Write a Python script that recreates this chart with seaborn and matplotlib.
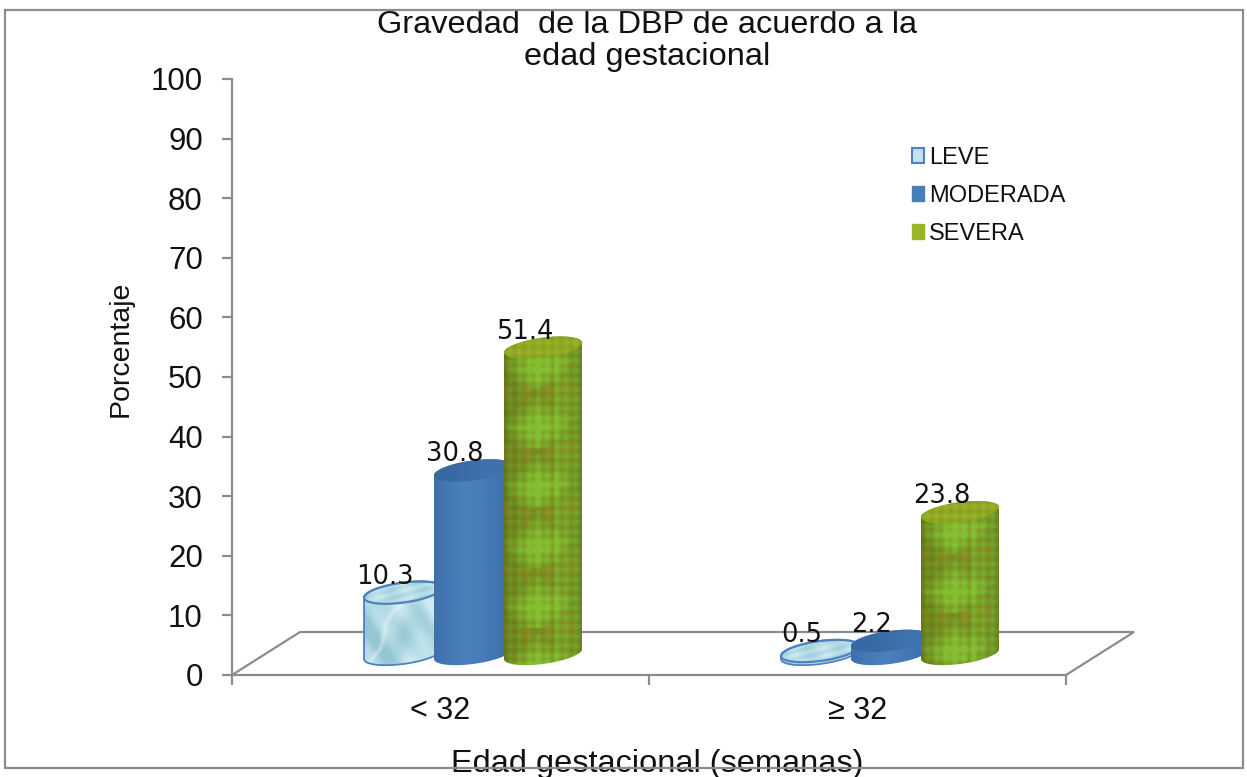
import numpy as np
import pandas as pd
import seaborn as sns
import matplotlib
matplotlib.use("Agg")
import matplotlib.pyplot as plt
from matplotlib.patches import Polygon, Patch, Rectangle

# Severity of bronchopulmonary dysplasia by gestational age (percent)
categories = ["< 32", "≥ 32"]
severities = ["LEVE", "MODERADA", "SEVERA"]
leve = [10.3, 0.5]
moderada = [30.8, 2.2]
severa = [51.4, 23.8]
tick_values = list(range(0, 101, 10))
title_text = "Gravedad  de la DBP de acuerdo a la\nedad gestacional"
x_title = "Edad gestacional (semanas)"
y_title = "Porcentaje"

W, H = 1247, 777
AX_L, AX_R, AX_T, AX_B = 232, 1066, 79, 675
PX_X = (AX_R - AX_L) / 2.0      # pixels per category unit
PX_Y = (AX_B - AX_T) / 100.0    # pixels per percent
GRAY = "#8c8c8c"
FLOOR_DX = 68 / PX_X            # depth of the floor
FLOOR_DY = 43 / PX_Y
FLOOR = 21 / PX_Y               # column base above the front floor edge
SHIFT = 32.5 / PX_X             # columns stand in the middle of the floor depth
BAR_W = 78 / PX_X
B_PX, K_PX = 10.0, 5.0          # ellipse half-height and tilt

sns.set_theme(style="white")
plt.rcParams["font.family"] = ["Liberation Sans", "DejaVu Sans"]

df = pd.DataFrame({
    "edad": categories * 3,
    "gravedad": np.repeat(severities, 2),
    "pct": leve + moderada + severa,
})

fig = plt.figure(figsize=(W / 100, H / 100), dpi=100, facecolor="white")
ax = fig.add_axes([AX_L / W, 1 - AX_B / H, (AX_R - AX_L) / W, (AX_B - AX_T) / H])

sns.barplot(data=df, x="edad", y="pct", hue="gravedad", order=categories,
            hue_order=severities, palette=["#a9d8e8", "#4a7ebb", "#8fa51f"],
            width=210 / PX_X, dodge=True, legend=False, errorbar=None, ax=ax)
ax.set_xlim(-0.5, 1.5)
ax.set_ylim(0, 100)


def lerp(c0, c1, t):
    t = np.clip(t, 0, 1)[..., None]
    return np.array(matplotlib.colors.to_rgb(c0)) * (1 - t) + np.array(matplotlib.colors.to_rgb(c1)) * t


def leve_side(n, xp, yp, v):
    warp = np.sin(yp / 13.0 + 1.3 * np.sin(xp / 9.0)) + 0.6 * np.sin(xp / 5.3 - yp / 7.1)
    streak = np.exp(-((xp + 0.55 * yp - 12 - 4 * np.sin(yp / 9.0)) / 2.5) ** 2)
    img = lerp("#94c6d4", "#cdeaf2", 0.55 + 0.3 * warp + 0.25 * n)
    img = img * (1 - 0.35 * streak[..., None]) + 0.35 * streak[..., None]
    return img


def moderada_side(n, xp, yp, v):
    return lerp("#3a6ba6", "#4b80bd", 1.1 - 0.9 * np.abs(n + 0.1))


def severa_side(n, xp, yp, v):
    p = np.mod(v, 60.0) / 60.0
    weave = np.sin(2 * np.pi * (xp + yp) / 19.0) * np.sin(2 * np.pi * (xp - yp) / 19.0)
    diamond = 1 - (np.abs(n + 0.15) / 1.05 + np.abs(p - 0.66) / 0.6)
    g = 0.2 + 1.05 * np.clip(diamond, 0, 1) + 0.28 * weave
    g = np.where(n > 0.28, g + 0.32, g)
    img = lerp("#6f851c", "#84c032", g)
    ochre = np.clip(0.6 - 1.7 * p, 0, 1) * (0.45 + 0.55 * np.sin(2 * np.pi * xp / 22.0))
    ochre = np.clip(ochre + 0.3 * np.clip(-weave, 0, 1), 0, 1)[..., None]
    img = img * (1 - ochre * 0.7) + np.array([0.66, 0.53, 0.16]) * ochre * 0.7
    return img * (0.84 + 0.16 * np.sqrt(np.clip(1 - n ** 2, 0, 1)))[..., None]


def leve_top(n, xp, yp, v):
    return lerp("#9fcfdd", "#cde9f1", 0.5 + 0.5 * np.sin(xp / 5.0 + yp / 3.0) * np.sin(yp / 2.5))


def moderada_top(n, xp, yp, v):
    return lerp("#396aa5", "#3f72ae", n + 0.5)


def severa_top(n, xp, yp, v):
    mesh = np.sin(2 * np.pi * (xp + yp) / 19.0) * np.sin(2 * np.pi * (xp - yp) / 19.0)
    return lerp("#8a9e1e", "#97b42c", 0.5 + 0.5 * mesh)


SIDES = [leve_side, moderada_side, severa_side]
TOPS = [leve_top, moderada_top, severa_top]
EDGES = ["#4f81bd", None, None]


def textured(cx, half, y_lo, y_hi, shader, y_ref, clip, z):
    # y_lo / y_hi are percent values; the shader works in pixel units
    nx = max(int(2 * half * PX_X), 2)
    ny = max(int((y_hi - y_lo) * PX_Y), 2)
    xs = np.linspace(-1, 1, nx)
    ys = np.linspace(0, (y_hi - y_lo) * PX_Y, ny)
    n, yp = np.meshgrid(xs, ys)
    xp = n * half * PX_X
    arc = B_PX * np.sqrt(np.clip(1 - n ** 2, 0, 1)) - K_PX * n
    v = yp + (y_hi - y_ref) * PX_Y - arc
    img = np.clip(shader(n, xp, yp, v), 0, 1)
    im = ax.imshow(img, extent=(cx - half, cx + half, y_lo, y_hi), origin="upper",
                   aspect="auto", interpolation="bilinear", zorder=z)
    im.set_clip_path(clip)


def ellipse_arc(cx, half, y0, t):
    return np.column_stack([cx + half * np.cos(t), y0 + (K_PX * np.cos(t) + B_PX * np.sin(t)) / PX_Y])


# Each flat bar becomes a tilted cylinder standing on the floor
for s, container in enumerate(ax.containers):
    for c, bar in enumerate(container):
        bar.set_width(BAR_W)
        bar.set_x(bar.get_x() + SHIFT + (210 / 3 / PX_X - BAR_W) / 2)
        bar.set_y(FLOOR)
        value = bar.get_height()
        cx = bar.get_x() + BAR_W / 2
        half = BAR_W / 2
        top = FLOOR + value
        z = 3 + s
        bar.set_zorder(z)
        outline = np.vstack([ellipse_arc(cx, half, top, np.linspace(np.pi, 0, 60)),
                             ellipse_arc(cx, half, FLOOR, np.linspace(0, -np.pi, 60))])
        body = Polygon(outline, closed=True, fc="none", ec="none", transform=ax.transData)
        ax.add_patch(body)
        bar.set_clip_path(body)
        pad = (B_PX + K_PX) / PX_Y
        textured(cx, half, FLOOR - pad, top + pad, SIDES[s], top, body, z + 0.1)
        lid_xy = ellipse_arc(cx, half, top, np.linspace(0, 2 * np.pi, 120))
        lid = Polygon(lid_xy, closed=True, fc="none", ec="none", transform=ax.transData)
        ax.add_patch(lid)
        textured(cx, half, top - pad, top + pad, TOPS[s], top, lid, z + 0.2)
        if EDGES[s]:
            ax.add_patch(Polygon(outline, closed=True, fc="none", ec=EDGES[s], lw=1.3, zorder=z + 0.3))
            ax.add_patch(Polygon(lid_xy, closed=True, fc="none", ec=EDGES[s], lw=1.6, zorder=z + 0.3))
        ax.annotate(f"{value:.1f}", (cx, top), xytext=(-13, 11.5),
                    textcoords="offset points", ha="center", va="center",
                    fontsize=18.5, family="DejaVu Sans", color="#111111", zorder=10)

# Floor of the plot, drawn behind the columns
floor_x = [-0.5, -0.5 + FLOOR_DX, 1.5 + FLOOR_DX, 1.5]
floor_y = [0, FLOOR_DY, FLOOR_DY, 0]
ax.plot(floor_x, floor_y, color=GRAY, lw=1.6, clip_on=False, zorder=1, solid_joinstyle="miter")

ax.set_xlim(-0.5, 1.5)
ax.set_ylim(0, 100)
ax.set_yticks(tick_values)
ax.set_xticks([-0.5, 0.5, 1.5], labels=["", "", ""])
ax.set_xticks([0, 1], labels=categories, minor=True)
ax.tick_params(axis="x", which="minor", length=0, labelsize=22, labelcolor="#111111", pad=15)
ax.tick_params(axis="y", length=7, width=1.6, color=GRAY, labelsize=22.5, labelcolor="#111111", pad=14, left=True)
ax.tick_params(axis="x", which="major", length=7, width=1.6, color=GRAY, bottom=True)
sns.despine(ax=ax)
for side in ("left", "bottom"):
    ax.spines[side].set_color(GRAY)
    ax.spines[side].set_linewidth(1.6)

ax.set_title(title_text, fontsize=23.4, color="#111111", linespacing=1.1, pad=10)
ax.title.set_position((0.4975, 1))
ax.set_xlabel(x_title, fontsize=23.4, color="#111111", va="center")
ax.xaxis.set_label_coords(657 / W, 1 - 764 / H, transform=fig.transFigure)
ax.set_ylabel(y_title, fontsize=20.5, color="#111111", va="center", rotation=90)
ax.yaxis.set_label_coords(121 / W, 1 - 349 / H, transform=fig.transFigure)

handles = [Patch(fc="#bfe3f0", ec="#4f81bd", lw=1.5), Patch(fc="#4a7ebb", ec="#4a7ebb"), Patch(fc="#9ab52a", ec="#9ab52a")]
fig.legend(handles, severities, loc="upper left", bbox_to_anchor=(891 / W, 1 - 126 / H),
           frameon=False, fontsize=17, handlelength=0.5, handleheight=0.6, handletextpad=0.2,
           labelspacing=0.67, labelcolor="#111111")

# Thin frame around the whole chart area
fig.add_artist(Rectangle((5 / W, 1 - 768 / H), 1238 / W, 758 / H, transform=fig.transFigure,
                         fc="none", ec=GRAY, lw=1.6))

fig.savefig("out.png", dpi=100, facecolor="white")
